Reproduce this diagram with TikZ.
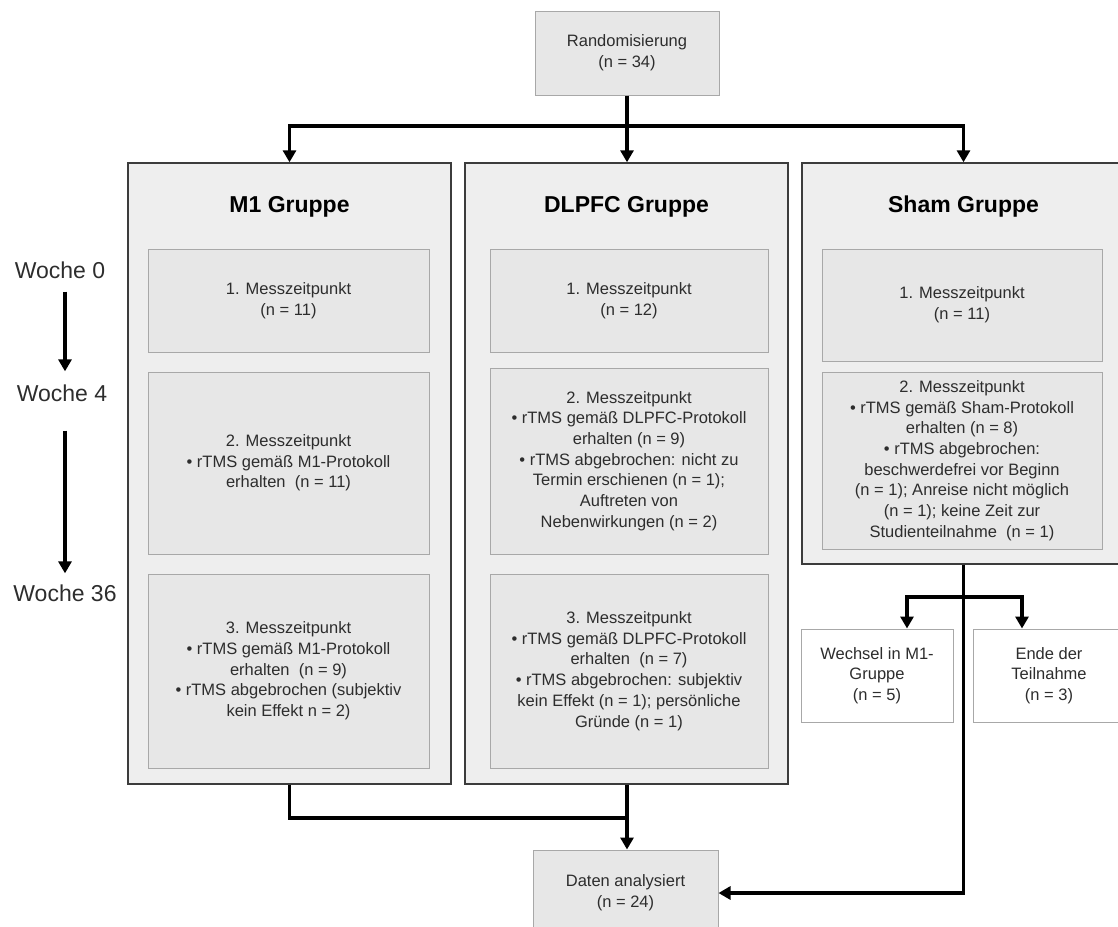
\documentclass[tikz,border=0pt]{standalone}
\usepackage{fontspec}
\setmainfont{Liberation Sans}
\usetikzlibrary{positioning,arrows.meta}
\definecolor{groupfill}{RGB}{238,238,238}
\definecolor{stagefill}{RGB}{231,231,231}
\definecolor{stageline}{RGB}{168,168,168}
\definecolor{groupline}{RGB}{60,60,60}
\definecolor{textgray}{RGB}{45,45,45}
\tikzset{
    % box styles
    groupbox/.style={
        rectangle, draw=groupline, line width=1.4pt, fill=groupfill,
        inner sep=0pt
    },
    stagebox/.style={
        rectangle, draw=stageline, line width=1pt, fill=stagefill,
        align=center, inner sep=0pt, text=textgray,
        font=\fontsize{16.5}{20.7}\selectfont
    },
    infobox/.style={
        stagebox, fill=stagefill
    },
    exitbox/.style={
        stagebox, fill=white
    },
    grouptitle/.style={
        font=\fontsize{23}{28}\selectfont\bfseries, text=black
    },
    weeklabel/.style={
        font=\fontsize{23}{28}\selectfont, text=textgray, inner sep=3pt
    },
    conn/.style={
        -{Triangle[length=12pt,width=13pt]}, line width=3.6pt, black
    },
    connline/.style={
        line width=3.6pt, black
    }
}
\begin{document}
\begin{tikzpicture}[x=1pt,y=-1pt]
\useasboundingbox (0,0) rectangle (1118,926);
\clip (0,0) rectangle (1118,926);

% Randomisierung
\node[infobox, minimum width=184pt, minimum height=84pt] (rand) at (627,53) {Randomisierung\\(n = 34)};

% Gruppen
\node[groupbox, minimum width=323pt, minimum height=621pt] (m1grp) at (289.5,473.5) {};
\node[groupbox, minimum width=323pt, minimum height=621pt] (dlpfcgrp) at (626.5,473.5) {};
\node[groupbox, minimum width=323pt, minimum height=401pt] (shamgrp) at (963.5,363.5) {};

\node[grouptitle] (m1title) at (289.5,207) {M1 Gruppe};
\node[grouptitle] (dlpfctitle) at (626.5,207) {DLPFC Gruppe};
\node[grouptitle] (shamtitle) at (963.5,207) {Sham Gruppe};

% M1 Messzeitpunkte
\node[stagebox, minimum width=281pt, minimum height=103pt] (m1a) at (288.5,300.5) {1. Messzeitpunkt\\(n = 11)};
\node[stagebox, minimum width=281pt, minimum height=182pt, below=19pt of m1a] (m1b) {2. Messzeitpunkt\\• rTMS gemäß M1-Protokoll\\erhalten \ (n = 11)};
\node[stagebox, minimum width=281pt, minimum height=194pt, below=19pt of m1b] (m1c) {3. Messzeitpunkt\\• rTMS gemäß M1-Protokoll\\erhalten \ (n = 9)\\• rTMS abgebrochen (subjektiv\\kein Effekt n = 2)};

% DLPFC Messzeitpunkte
\node[stagebox, minimum width=278pt, minimum height=103pt] (dlpfca) at (629,300.5) {1. Messzeitpunkt\\(n = 12)};
\node[stagebox, minimum width=278pt, minimum height=186pt, below=15pt of dlpfca] (dlpfcb) {2. Messzeitpunkt\\• rTMS gemäß DLPFC-Protokoll\\erhalten (n = 9)\\• rTMS abgebrochen: nicht zu\\Termin erschienen (n = 1);\\Auftreten von\\Nebenwirkungen (n = 2)};
\node[stagebox, minimum width=278pt, minimum height=194pt, below=19pt of dlpfcb] (dlpfcc) {3. Messzeitpunkt\\• rTMS gemäß DLPFC-Protokoll\\erhalten \ (n = 7)\\• rTMS abgebrochen: subjektiv\\kein Effekt (n = 1); persönliche\\Gründe (n = 1)};

% Sham Messzeitpunkte
\node[stagebox, minimum width=280pt, minimum height=112pt] (shama) at (962,305) {1. Messzeitpunkt\\(n = 11)};
\node[stagebox, minimum width=280pt, minimum height=177pt, below=10pt of shama] (shamb) {2. Messzeitpunkt\\• rTMS gemäß Sham-Protokoll\\erhalten (n = 8)\\• rTMS abgebrochen:\\beschwerdefrei vor Beginn\\(n = 1); Anreise nicht möglich\\(n = 1); keine Zeit zur\\Studienteilnahme \ (n = 1)};

% Ausscheiden aus Sham
\node[exitbox, minimum width=152pt, minimum height=93pt] (wechsel) at (877,675.5) {Wechsel in M1-\\Gruppe\\(n = 5)};
\node[exitbox, minimum width=152pt, minimum height=93pt] (ende) at (1049,675.5) {Ende der\\Teilnahme\\(n = 3)};

% Auswertung
\node[infobox, minimum width=185pt, minimum height=86pt] (daten) at (625.5,893) {Daten analysiert\\(n = 24)};

% Zeitachse
\node[weeklabel] (w0) at (60,270) {Woche 0};
\node[weeklabel] (w4) at (62,393) {Woche 4};
\node[weeklabel] (w36) at (65,593) {Woche 36};

\draw[conn, shorten <=10pt, shorten >=10pt] (w0.south -| w36.south) -- (w4.north -| w36.south);
\draw[conn, shorten <=26pt, shorten >=8pt] (w4.south -| w36.south) -- (w36.north);

% Verbindungen
\coordinate (split) at (627,126);
\coordinate (merge) at (627,818);
\coordinate (branch) at (963.5,597);

\draw[conn] (rand.south) -- (rand.south |- dlpfcgrp.north);
\draw[conn] (split) -| (m1grp.north);
\draw[conn] (split) -| (shamgrp.north);
\draw[connline] (m1grp.south) |- (merge);
\draw[conn] (dlpfcgrp.south -| merge) -- (daten.north -| merge);
\draw[conn] (shamgrp.south) |- (daten.east);
\draw[conn] (branch) -| ([xshift=30pt]wechsel.north);
\draw[conn] (branch) -| ([xshift=-27pt]ende.north);

\end{tikzpicture}
\end{document}
